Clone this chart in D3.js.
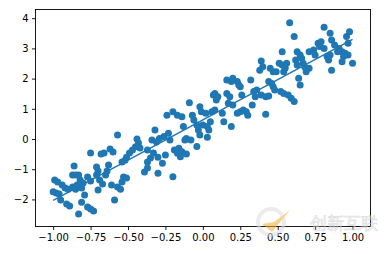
<!DOCTYPE html>
<html>
<head>
<meta charset="utf-8">
<script src="https://cdnjs.cloudflare.com/ajax/libs/d3/7.8.5/d3.min.js"></script>
<style>
	body { margin: 0; background: #fff; }
	text { font-family: 'DejaVu Sans', sans-serif; }
</style>
</head>
<body>
<script>
// scatter points
var xs = [
	-1.00, -0.98, -0.96, -0.99, -0.97, -0.94, -0.92, -0.95, -0.91, -0.89,
	-0.90, -0.87, -0.85, -0.86, -0.87, -0.85, -0.83, -0.82, -0.80, -0.84,
	-0.81, -0.79, -0.81, -0.83, -0.77, -0.75, -0.73, -0.77, -0.75, -0.75,
	-0.71, -0.70, -0.71, -0.69, -0.67, -0.70, -0.68, -0.66, -0.63, -0.64,
	-0.65, -0.62, -0.60, -0.57, -0.61, -0.57, -0.55, -0.59, -0.53, -0.51,
	-0.54, -0.54, -0.52, -0.51, -0.49, -0.47, -0.45, -0.44, -0.43, -0.42,
	-0.39, -0.37, -0.37, -0.35, -0.37, -0.34, -0.33, -0.32, -0.31, -0.30,
	-0.30, -0.27, -0.29, -0.26, -0.23, -0.22, -0.25, -0.20, -0.19, -0.16,
	-0.17, -0.14, -0.15, -0.12, -0.11, -0.08, -0.11, -0.04, -0.13, -0.24,
	-0.20, -0.17, -0.14, -0.09, -0.07, -0.06, -0.04, -0.02, -0.01, 0.02,
	-0.03, -0.02, 0.00, 0.03, 0.05, 0.04, 0.03, 0.06, 0.08, 0.07,
	0.08, 0.10, 0.09, 0.13, 0.14, 0.16, 0.19, 0.20, 0.23, 0.24,
	0.25, 0.16, 0.18, 0.17, 0.20, 0.26, 0.19, 0.23, 0.25, 0.27,
	0.29, 0.30, 0.32, 0.34, 0.36, 0.35, 0.33, 0.58, 0.61, 0.81,
	0.85, 0.86, 0.98, 0.96, 0.97, 0.53, 0.63, 0.65, 0.66, 0.67,
	0.68, 0.71, 0.69, 0.71, 0.74, 0.75, 0.77, 0.78, 0.79, 0.81,
	0.83, 0.85, 0.84, 0.88, 0.91, 0.93, 0.90, 0.95, 0.97, 0.94,
	0.93, 1.00, 0.86, 0.62, 0.63, 0.39, 0.38, 0.40, 0.45, 0.47,
	0.49, 0.51, 0.53, 0.55, 0.56, 0.54, 0.44, 0.46, 0.47, 0.48,
	0.64, 0.65, 0.52, 0.54, 0.57, 0.59, 0.61, 0.39, 0.42, 0.44,
	0.42
];
var ys = [
	-1.75, -1.79, -1.82, -1.36, -1.42, -1.52, -1.62, -2.02, -2.15, -2.22,
	-1.66, -1.59, -1.66, -0.89, -1.19, -1.19, -1.19, -1.36, -1.46, -1.52,
	-1.62, -1.85, -2.09, -2.48, -2.25, -2.32, -2.38, -1.26, -1.39, -0.46,
	-0.93, -1.06, -1.19, -1.36, -1.49, -1.69, -0.50, -0.46, -0.86, -1.06,
	-1.19, -0.33, -0.43, 0.13, -1.52, -1.59, -1.66, -2.02, -1.26, -1.29,
	-1.42, -0.76, -0.70, -0.60, -0.46, -0.36, -0.26, 0.00, -0.13, -0.30,
	-1.09, -0.76, -0.96, -0.63, -0.36, -0.03, -0.46, 0.30, -0.10, -0.60,
	-1.13, -0.80, 0.02, 0.08, 0.19, -0.03, -0.53, -1.25, -0.36, -0.31,
	-0.47, -0.42, -0.59, -0.03, 0.02, -0.03, -0.50, -0.25, 0.41, 0.79,
	0.90, 0.79, 0.74, 1.20, 0.79, 0.63, 0.46, 1.07, 0.90, 0.85,
	0.30, 0.13, 0.46, 0.41, 0.57, 0.30, 0.06, 0.90, 0.96, 1.46,
	1.51, 1.40, 1.29, 0.85, 0.57, 1.95, 1.90, 2.01, 1.90, 1.79,
	1.73, 1.51, 1.40, 1.18, 1.13, 1.46, 0.41, 0.85, 0.90, 0.96,
	0.90, 0.79, 1.95, 1.57, 1.62, 1.40, 1.13, 3.85, 3.39, 3.70,
	3.50, 3.28, 3.55, 3.39, 3.17, 2.89, 2.89, 2.78, 2.67, 2.51,
	2.39, 2.34, 2.23, 2.89, 2.95, 2.78, 3.17, 3.06, 3.22, 3.00,
	2.73, 2.78, 2.62, 3.11, 3.00, 2.89, 2.89, 2.84, 2.78, 2.73,
	2.56, 2.51, 2.28, 2.62, 2.45, 2.58, 2.28, 2.39, 2.34, 2.23,
	2.23, 2.51, 2.45, 2.34, 2.51, 2.23, 1.90, 1.84, 1.73, 1.62,
	2.01, 1.79, 1.57, 1.51, 1.46, 1.35, 1.24, 1.46, 1.40, 1.42,
	0.82
];

// fitted line
var lineX = [-1, 1];
var lineY = [-2.03, 3.3];

var xTicks = [-1, -0.75, -0.5, -0.25, 0, 0.25, 0.5, 0.75, 1];
var yTicks = [-2, -1, 0, 1, 2, 3, 4];

var width = 388, height = 254;
var padLeft = 35.5, padRight = 370.5, padTop = 9.5, padBottom = 226.5;
var blue = '#1f77b4';

function plot_it() {
	var svg = d3.select('body')
		.append('svg')
		.attr('width', width)
		.attr('height', height);

	var xScale = d3.scaleLinear()
		.domain([-1.118, 1.12])
		.range([padLeft, padRight]);
	var yScale = d3.scaleLinear()
		.domain([-2.897, 4.288])
		.range([padBottom, padTop]);

	var minus = function(s){ return s.replace('-', '\u2212'); };

	var xAxis = d3.axisBottom(xScale)
		.tickValues(xTicks)
		.tickSize(3.5)
		.tickPadding(3.5)
		.tickFormat(function(d){ return minus(d3.format('.2f')(d)); });
	var yAxis = d3.axisLeft(yScale)
		.tickValues(yTicks)
		.tickSize(3.5)
		.tickPadding(3.5)
		.tickFormat(function(d){ return minus(String(d)); });

	// points
	var pts = d3.range(xs.length);
	svg.append('g')
		.attr('id', 'scatter')
		.selectAll('circle')
		.data(pts)
		.enter()
		.append('circle')
		.attr('cx', function(i){ return xScale(xs[i]); })
		.attr('cy', function(i){ return yScale(ys[i]); })
		.attr('r', 3.5)
		.attr('fill', blue);

	// line
	var line = d3.line()
		.x(function(d){ return xScale(d[0]); })
		.y(function(d){ return yScale(d[1]); });
	svg.append('path')
		.datum(d3.zip(lineX, lineY))
		.attr('d', line)
		.attr('fill', 'none')
		.attr('stroke', blue)
		.attr('stroke-width', 1.5);

	// frame
	svg.append('rect')
		.attr('x', padLeft).attr('y', padTop)
		.attr('width', padRight - padLeft).attr('height', padBottom - padTop)
		.attr('fill', 'none').attr('stroke', '#000').attr('stroke-width', 0.9);

	svg.append('g')
		.attr('id', 'xaxis')
		.attr('transform', 'translate(0,' + padBottom + ')')
		.call(xAxis);
	svg.append('g')
		.attr('id', 'yaxis')
		.attr('transform', 'translate(' + padLeft + ',0)')
		.call(yAxis);

	svg.selectAll('.domain').remove();
	svg.selectAll('.tick line').attr('stroke', '#000').attr('stroke-width', 0.9);
	svg.selectAll('.tick text')
		.attr('fill', '#000')
		.attr('font-size', '10px')
		.attr('font-family', 'DejaVu Sans, sans-serif');

	// faint watermark in the corner
	var wm = svg.append('g').attr('opacity', 0.55);
	wm.append('circle')
		.attr('cx', 271).attr('cy', 222).attr('r', 13)
		.attr('fill', 'none').attr('stroke', '#ddd').attr('stroke-width', 4);
	wm.append('path')
		.attr('d', 'M262,224 L272,232 L290,210 L274,222 Z')
		.attr('fill', '#f0b030');
	wm.append('text')
		.attr('x', 310).attr('y', 229)
		.attr('font-size', '17px')
		.attr('font-family', 'Noto Sans CJK SC')
		.attr('fill', '#fff')
		.attr('stroke', '#ccc').attr('stroke-width', 0.8)
		.text('创新互联');
}

plot_it();
</script>
</body>
</html>
